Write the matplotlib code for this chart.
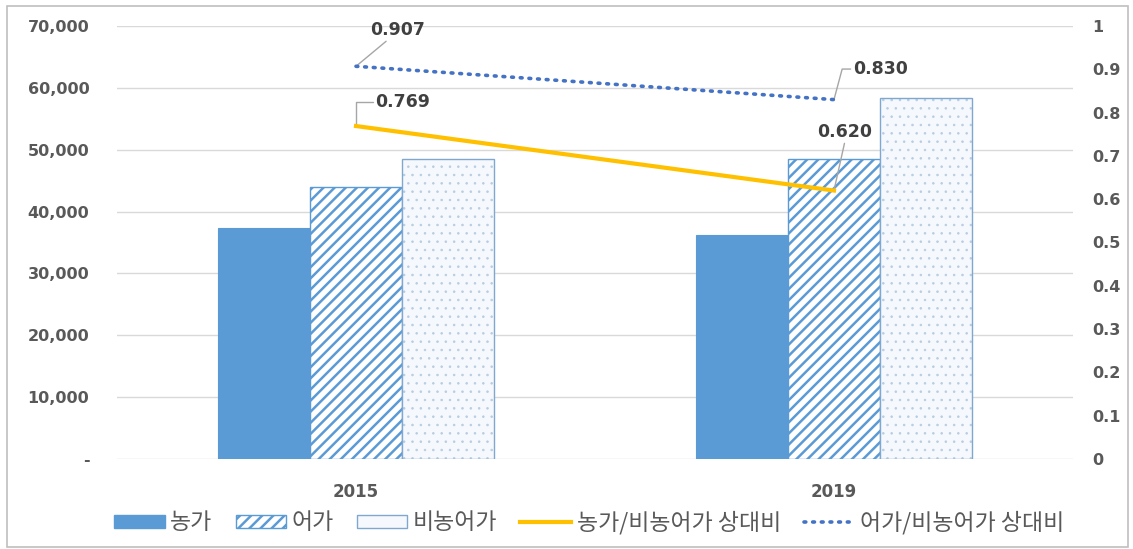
import matplotlib.pyplot as plt
from matplotlib.ticker import FuncFormatter
from matplotlib.patches import Rectangle
from matplotlib.lines import Line2D
import numpy as np

plt.rcParams['font.family'] = ['Noto Sans CJK KR', 'DejaVu Sans']
plt.rcParams['hatch.linewidth'] = 1.8

years = ["2015", "2019"]
farm = [37300, 36200]          # 농가
fish = [44000, 48500]          # 어가
nonfarm = [48500, 58400]       # 비농어가
farm_ratio = [0.769, 0.620]    # 농가/비농어가 상대비
fish_ratio = [0.907, 0.830]    # 어가/비농어가 상대비

series_names = ["농가", "어가", "비농어가", "농가/비농어가 상대비", "어가/비농어가 상대비"]

blue = "#5B9BD5"
gray_txt = "#595959"

fig = plt.figure(figsize=(11.33, 5.49), dpi=100)
ax = fig.add_axes([0.1033, 0.164, 0.8437, 0.7886])
ax2 = ax.twinx()

x = np.arange(len(years))
w = 0.193

ax.bar(x - w, farm, w, color=blue, edgecolor=blue, linewidth=0.8, zorder=2)
ax.bar(x, fish, w, color="white", edgecolor=blue, hatch="///", linewidth=1.0, zorder=2)
dots = ax.bar(x + w, nonfarm, w, color="#F5F9FD", edgecolor="#B9CCE0", hatch="..", linewidth=0, zorder=2)
for p in dots:
    if hasattr(p, "set_hatch_linewidth"):
        p.set_hatch_linewidth(0.6)
ax.bar(x + w, nonfarm, w, fill=False, edgecolor="#7FA7CF", linewidth=1.0, zorder=3)

ax.set_xlim(-0.5, 1.5)
ax.set_ylim(0, 70000)
ax.set_yticks(np.arange(0, 70001, 10000))
ax.yaxis.set_major_formatter(FuncFormatter(lambda v, p: "-" if v == 0 else f"{v:,.0f}"))
ax.set_xticks(x)
ax.set_xticklabels(years)
ax.grid(axis="y", color="#D9D9D9", linewidth=1.0, zorder=0)
ax.set_axisbelow(True)

ax2.set_ylim(0, 1)
ax2.set_yticks(np.arange(0, 1.01, 0.1))
ax2.yaxis.set_major_formatter(FuncFormatter(lambda v, p: f"{v:.1f}" if 0.05 < v < 0.95 else f"{v:.0f}"))

for a in (ax, ax2):
    for s in a.spines.values():
        s.set_visible(False)
    a.tick_params(length=0, colors=gray_txt)
    for lab in a.get_yticklabels() + a.get_xticklabels():
        lab.set_fontfamily("DejaVu Sans")
        lab.set_fontweight("bold")
        lab.set_fontsize(11.5)
ax.tick_params(axis="y", pad=20)
ax.tick_params(axis="x", pad=17)
ax2.tick_params(axis="y", pad=14)
for lab in ax.get_xticklabels():
    lab.set_fontsize(12)

ax2.plot(x, farm_ratio, color="#FFC000", linewidth=3, zorder=4)
ax2.plot(x, fish_ratio, color="#4472C4", linewidth=2.6, linestyle=(0, (0.5, 1.9)),
         dash_capstyle="round", zorder=4)

lbl = dict(fontfamily="DejaVu Sans", fontweight="bold", fontsize=12.5, color="#404040")
arrow = dict(arrowstyle="-", color="#A6A6A6", linewidth=1, shrinkA=0, shrinkB=0)
ax2.annotate(f"{fish_ratio[0]:.3f}", xy=(x[0], fish_ratio[0]), xytext=(30, 20),
             textcoords="offset points", ha="center", va="bottom",
             arrowprops=dict(arrow, relpos=(0.35, 0.0)), **lbl)
ax2.annotate(f"{farm_ratio[0]:.3f}", xy=(x[0], farm_ratio[0]), xytext=(14, 17),
             textcoords="offset points", ha="left", va="center",
             arrowprops=dict(arrow, connectionstyle="angle,angleA=0,angleB=90,rad=0", relpos=(0.0, 0.5)), **lbl)
ax2.annotate(f"{fish_ratio[1]:.3f}", xy=(x[1], fish_ratio[1]), xytext=(14, 22),
             textcoords="offset points", ha="left", va="center",
             arrowprops=dict(arrow, connectionstyle="angle,angleA=0,angleB=75,rad=0", relpos=(0.0, 0.5)), **lbl)
ax2.annotate(f"{farm_ratio[1]:.3f}", xy=(x[1], farm_ratio[1]), xytext=(8, 36),
             textcoords="offset points", ha="center", va="bottom",
             arrowprops=dict(arrow, relpos=(0.5, 0.0)), **lbl)

handles = [
    Rectangle((0, 0), 1, 1, facecolor=blue, edgecolor=blue),
    Rectangle((0, 0), 1, 1, facecolor="white", edgecolor=blue, hatch="///"),
    Rectangle((0, 0), 1, 1, facecolor="#F5F9FD", edgecolor="#7FA7CF"),
    Line2D([], [], color="#FFC000", linewidth=3),
    Line2D([], [], color="#4472C4", linewidth=2.6, linestyle=(0, (0.5, 1.9)), dash_capstyle="round"),
]
fig.legend(handles, series_names, loc="center", bbox_to_anchor=(0.52, 0.048), ncol=5,
           frameon=False, fontsize=16.5, handlelength=2.2, handleheight=0.5,
           columnspacing=1.0, handletextpad=0.25, labelcolor=gray_txt)

fig.patches.append(Rectangle((0.006, 0.004), 0.99, 0.985, transform=fig.transFigure,
                             fill=False, edgecolor="#BFBFBF", linewidth=1.2))

fig.savefig("out.png", dpi=100)
